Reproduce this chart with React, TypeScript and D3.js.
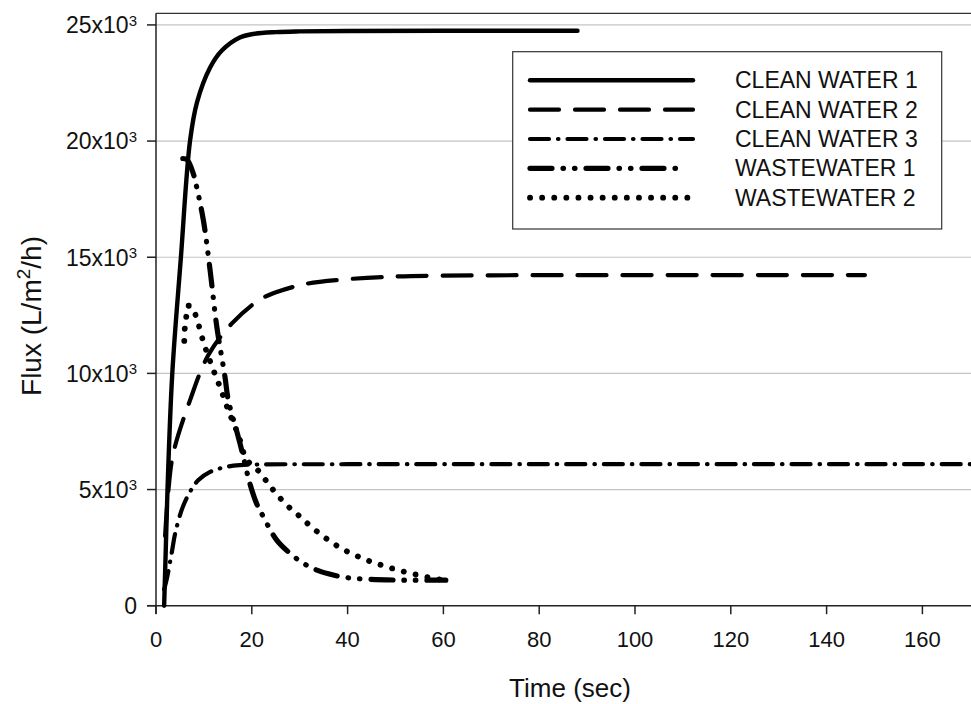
import React, { useEffect } from 'react';
import * as d3 from 'd3';

// ---- data ----
const seriesNames = ['CLEAN WATER 1', 'CLEAN WATER 2', 'CLEAN WATER 3', 'WASTEWATER 1', 'WASTEWATER 2'];

const cleanWater1: [number, number][] = [
  [1.7, 0], [2.05, 2500], [2.4, 5000], [3.4, 10000], [5.2, 15000], [7.1, 20000], [8.6, 21700],
  [11.3, 23170], [13.7, 23890], [17.5, 24460], [20.3, 24610], [25, 24690], [30, 24720],
  [40, 24740], [60, 24750], [88, 24750],
];
const cleanWater2: [number, number][] = [
  [1.9, 3000], [2.6, 5000], [3.6, 6550], [7.1, 8840], [10.9, 10780], [15.8, 12140],
  [21.4, 13140], [25.2, 13500], [31.5, 13860], [38.4, 14030], [50, 14170], [70, 14220],
  [100, 14230], [148, 14230],
];
const cleanWater3: [number, number][] = [
  [1.7, 700], [2.2, 1100], [3.3, 2300], [4.0, 3110], [5.5, 4200], [7.1, 4900], [8.8, 5400],
  [11.3, 5760], [14.8, 5980], [17.5, 6050], [22, 6080], [40, 6090], [170, 6090],
];
const wastewater1: [number, number][] = [
  [5.6, 19250], [6.5, 19200], [7.8, 18590], [8.5, 18010], [9.9, 16580], [11.3, 14430],
  [12.7, 12000], [14.4, 9850], [15.1, 8840], [16.8, 7550], [17.9, 6690], [19.6, 5260],
  [21.0, 4400], [22.4, 3830], [25.2, 2820], [28.0, 2250], [30.8, 1820], [33.6, 1530],
  [37.0, 1320], [40.2, 1200], [44.7, 1135], [49.6, 1105], [53.7, 1100], [60.5, 1100],
];
const wastewater2: [number, number][] = [
  [5.9, 11400], [6.0, 11900], [6.3, 12400], [6.6, 12900], [7.5, 12850], [8.5, 12360],
  [9.9, 11350], [11.6, 10350], [13.4, 9390], [15.1, 8410], [17.2, 7340], [18.9, 6300],
  [21.4, 5800], [23.1, 5350], [24.8, 4900], [27.3, 4330], [29.7, 3900], [32.0, 3470],
  [34.5, 3050], [36.8, 2710], [39.1, 2420], [41.5, 2180], [44.0, 1960], [46.4, 1790],
  [48.9, 1630], [51.3, 1490], [53.7, 1370], [56.2, 1250], [58.6, 1150], [60.3, 1100],
];

const xTicks = [0, 20, 40, 60, 80, 100, 120, 140, 160];
const yTicks = [0, 5000, 10000, 15000, 20000, 25000];
const yTickMantissas = ['0', '5', '10', '15', '20', '25'];

const allSeries = [cleanWater1, cleanWater2, cleanWater3, wastewater1, wastewater2];

// ---- styles ----
const seriesStyles = [
  { width: 4.4, dash: 'none' },
  { width: 4.2, dash: '29,16' },
  { width: 4.2, dash: '19,9,0.5,9' },
  { width: 5.2, dash: '22,11,0.5,11,0.5,11' },
  { width: 5.8, dash: '0.1,12' },
];

const W = 971;
const H = 704;
const X0 = 156;
const X1 = 970.3;
const Y0 = 605.7;
const Y1 = 13.3;
const FONT = '"Liberation Sans", Arial, Helvetica, sans-serif';

export default function App() {
  useEffect(() => {
    document.body.style.margin = '0';
  }, []);

  const x = d3.scaleLinear().domain([0, 170]).range([X0, X1]);
  const y = d3.scaleLinear().domain([0, 25500]).range([Y0, Y1]);

  const line = d3
    .line<[number, number]>()
    .x((d) => x(d[0]))
    .y((d) => y(d[1]))
    .curve(d3.curveCatmullRom.alpha(0.5));

  const legendX = 512.7;
  const legendY = 51.7;
  const legendW = 429;
  const legendH = 177.3;
  const rowY0 = 80.3;
  const rowStep = 29.35;

  return (
    <svg width={W} height={H} style={{ position: 'absolute', left: 0, top: 0, display: 'block', background: '#fff' }}>
      {/* gridlines */}
      {yTicks.filter((t) => t > 0).map((t) => (
        <line key={'g' + t} x1={X0} x2={W} y1={y(t)} y2={y(t)} stroke="#c4c4c4" strokeWidth={1.2} />
      ))}
      {/* frame top */}
      <line x1={X0} x2={W} y1={Y1} y2={Y1} stroke="#333" strokeWidth={1.3} />
      {/* y axis */}
      <line x1={X0} x2={X0} y1={Y1} y2={Y0 + 8} stroke="#222" strokeWidth={1.5} />
      {yTicks.map((t, i) => (
        <g key={'yt' + t}>
          <line x1={X0 - 9} x2={X0} y1={y(t)} y2={y(t)} stroke="#222" strokeWidth={1.5} />
          <text x={137} y={y(t) + 8.3} textAnchor="end" fontFamily={FONT} fontSize={23} fill="#111">
            {t === 0 ? '0' : yTickMantissas[i] + 'x10'}
            {t === 0 ? null : (
              <tspan fontSize={15} dy={-7.6}>3</tspan>
            )}
          </text>
        </g>
      ))}
      {/* x axis */}
      <line x1={X0 - 9} x2={W} y1={Y0} y2={Y0} stroke="#222" strokeWidth={1.5} />
      {xTicks.map((t) => (
        <g key={'xt' + t}>
          <line x1={x(t)} x2={x(t)} y1={Y0} y2={Y0 + 8.5} stroke="#222" strokeWidth={1.5} />
          <text x={x(t)} y={Y0 + 41.5} textAnchor="middle" fontFamily={FONT} fontSize={22} fill="#111">
            {t}
          </text>
        </g>
      ))}

      {/* series */}
      {allSeries.map((s, i) => (
        <path
          key={'s' + i}
          d={line(s) || ''}
          fill="none"
          stroke="#000"
          strokeWidth={seriesStyles[i].width}
          strokeDasharray={seriesStyles[i].dash}
          strokeLinecap="round"
          strokeLinejoin="round"
        />
      ))}

      {/* axis titles */}
      <text x={570} y={697} textAnchor="middle" fontFamily={FONT} fontSize={26} fill="#111">
        Time (sec)
      </text>
      <text
        transform={`translate(41, 316) rotate(-90)`}
        textAnchor="middle"
        fontFamily={FONT}
        fontSize={28}
        fill="#111"
      >
        Flux (L/m<tspan fontSize={19} dy={-11}>2</tspan>
        <tspan dy={11}>/h)</tspan>
      </text>

      {/* legend */}
      <rect x={legendX} y={legendY} width={legendW} height={legendH} fill="#fff" stroke="#333" strokeWidth={1.2} />
      {seriesNames.map((name, i) => {
        const cy = rowY0 + i * rowStep;
        return (
          <g key={'l' + i}>
            <line
              x1={530}
              x2={i === 3 ? 680 : 693}
              y1={cy}
              y2={cy}
              stroke="#000"
              strokeWidth={seriesStyles[i].width}
              strokeDasharray={seriesStyles[i].dash}
              strokeLinecap="round"
            />
            <text x={735} y={cy + 8} fontFamily={FONT} fontSize={23} fill="#111">
              {name}
            </text>
          </g>
        );
      })}
    </svg>
  );
}
